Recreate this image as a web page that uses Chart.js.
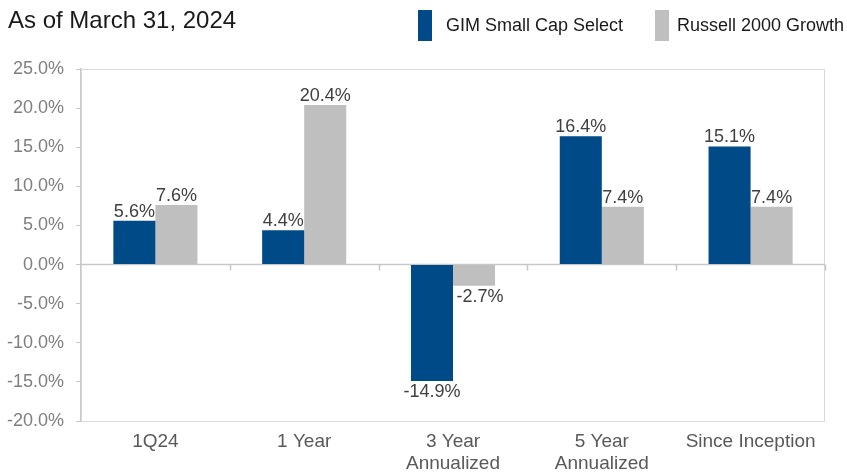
<!DOCTYPE html>
<html>
<head>
<meta charset="utf-8">
<script src="https://cdn.jsdelivr.net/npm/chart.js@4.4.1/dist/chart.umd.min.js"></script>
<style>
  body { margin: 0; background: #fff; }
  #wrap { position: relative; width: 847px; height: 472px; font-family: "Liberation Sans", Arial, sans-serif; }
  #title { position: absolute; left: 8px; top: 8px; font-size: 24px; line-height: 24px; color: #1a1a1a; }
  .leg { position: absolute; top: 10px; height: 31px; display: flex; align-items: center; font-size: 18px; color: #1a1a1a; white-space: nowrap; }
  .leg i { display: inline-block; width: 14px; height: 31px; margin-right: 14px; }
</style>
</head>
<body>
<div id="wrap">
  <canvas id="mycanvas" width="847" height="472"></canvas>
  <div id="title">As of March 31, 2024</div>
  <div id="legend"></div>
</div>
<script>
var categories = [["1Q24"], ["1 Year"], ["3 Year", "Annualized"], ["5 Year", "Annualized"], ["Since Inception"]];
var gim_v = [5.6, 4.4, -14.9, 16.4, 15.1];
var russell_v = [7.6, 20.4, -2.7, 7.4, 7.4];
var seriesNames = ["GIM Small Cap Select", "Russell 2000 Growth"];
var seriesColors = ["#004a87", "#bfbfbf"];

var FONT = '"Liberation Sans", Arial, sans-serif';

// legend (top right)
var legX = [418, 655];
var legEl = document.getElementById('legend');
seriesNames.forEach(function(name, i) {
	var d = document.createElement('div');
	d.className = 'leg';
	d.style.left = legX[i] + 'px';
	d.innerHTML = '<i style="background:' + seriesColors[i] + (i == 1 ? ';margin-right:8px' : '') + '"></i>' + name;
	legEl.appendChild(d);
});

// value labels above / below the bars
var barLabels = {
	id: 'barLabels',
	afterDatasetsDraw: function(chart) {
		var ctx = chart.ctx;
		ctx.save();
		ctx.font = '18px ' + FONT;
		ctx.fillStyle = '#404040';
		ctx.textAlign = 'center';
		chart.data.datasets.forEach(function(ds, di) {
			var meta = chart.getDatasetMeta(di);
			meta.data.forEach(function(bar, i) {
				var v = ds.data[i];
				var txt = v.toFixed(1) + '%';
				if (v >= 0) {
					ctx.textBaseline = 'bottom';
					ctx.fillText(txt, bar.x, bar.y);
				} else {
					ctx.textBaseline = 'top';
					// small nudge so the gray label clears the blue bar
					ctx.fillText(txt, bar.x + (di == 1 ? 6 : 0), bar.y + 2);
				}
			});
		});
		ctx.restore();
	}
};

// plot frame, zero line and category separators
var frame = {
	id: 'frame',
	beforeDatasetsDraw: function(chart) {
		var ctx = chart.ctx;
		var a = chart.chartArea;
		var y0 = chart.scales.y.getPixelForValue(0);
		var n = categories.length;
		var w = (a.right - a.left) / n;
		ctx.save();
		ctx.strokeStyle = '#d9d9d9';
		ctx.lineWidth = 1;
		ctx.strokeRect(a.left + 0.5, a.top + 0.5, a.right - a.left - 1, a.bottom - a.top);
		ctx.strokeStyle = '#c8c8c8';
		ctx.lineWidth = 1.5;
		ctx.beginPath();
		ctx.moveTo(a.left, y0);
		ctx.lineTo(a.right, y0);
		for (var i = 1; i <= n; i++) {
			var x = Math.round(a.left + i * w) + 0.5;
			ctx.moveTo(x, y0);
			ctx.lineTo(x, y0 + 6);
		}
		ctx.stroke();
		ctx.restore();
	}
};

var chartdata = {
	labels: categories,
	datasets: [
		{
			label: seriesNames[0],
			backgroundColor: seriesColors[0],
			data: gim_v
		},
		{
			label: seriesNames[1],
			backgroundColor: seriesColors[1],
			data: russell_v
		}
	]
};

var ctx = document.getElementById('mycanvas');

var BarGraph = new Chart(ctx, {
	type: 'bar',
	data: chartdata,
	plugins: [frame, barLabels],
	options: {
		responsive: false,
		animation: false,
		layout: { padding: { top: 69, left: 0, right: 22, bottom: 0 } },
		datasets: {
			bar: { barPercentage: 1, categoryPercentage: 0.565 }
		},
		plugins: {
			tooltip: { enabled: false },
			legend: { display: false }
		},
		scales: {
			x: {
				grid: { display: false, tickLength: 0 },
				border: { display: false },
				afterFit: function(s) { s.height = 51; },
				ticks: {
					color: '#595959',
					padding: 10,
					maxRotation: 0,
					font: { family: FONT, size: 19, lineHeight: 1.15 }
				}
			},
			y: {
				min: -20,
				max: 25,
				afterFit: function(s) { s.width = 81; },
				ticks: {
					stepSize: 5,
					color: '#7f7f7f',
					padding: 12,
					font: { family: FONT, size: 18 },
					callback: function(v) { return v.toFixed(1) + '%'; }
				},
				grid: { drawOnChartArea: false, drawTicks: true, tickLength: 5, color: '#c8c8c8' },
				border: { display: true, color: '#c8c8c8', width: 1.5 }
			}
		}
	}
});
</script>
</body>
</html>
